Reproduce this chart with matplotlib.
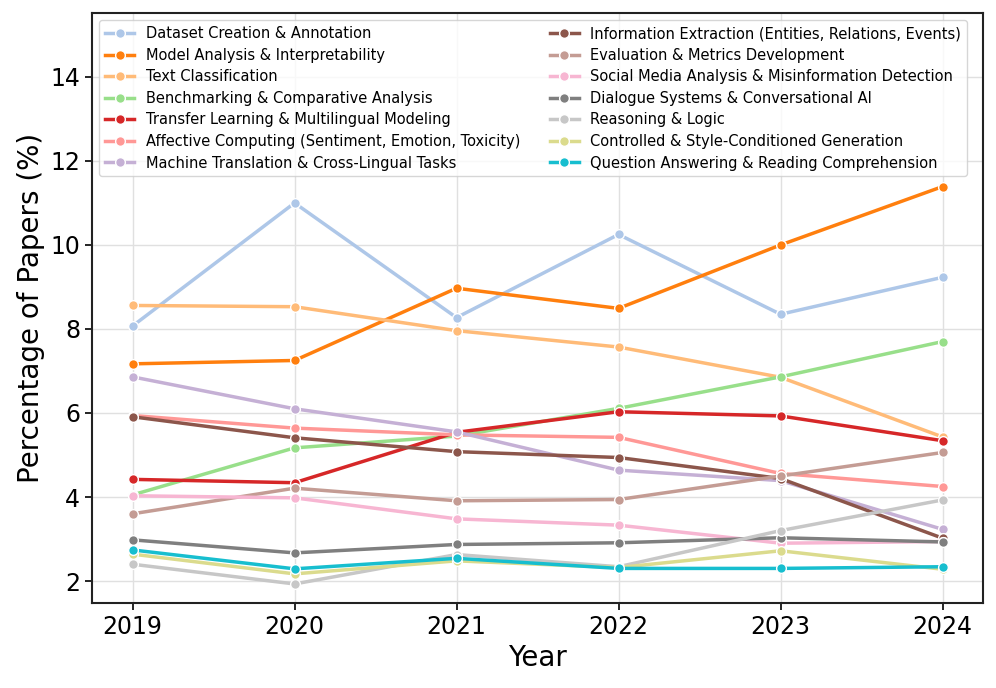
import matplotlib
matplotlib.use("Agg")
import matplotlib.pyplot as plt

years = [2019, 2020, 2021, 2022, 2023, 2024]

dataset_creation = [8.07, 11.00, 8.27, 10.25, 8.35, 9.23]
model_analysis = [7.17, 7.25, 8.97, 8.49, 10.00, 11.39]
text_classification = [8.56, 8.53, 7.96, 7.57, 6.85, 5.43]
benchmarking = [4.05, 5.17, 5.45, 6.11, 6.86, 7.70]
transfer_learning = [4.42, 4.34, 5.54, 6.03, 5.93, 5.34]
affective_computing = [5.94, 5.64, 5.48, 5.42, 4.56, 4.25]
machine_translation = [6.86, 6.10, 5.55, 4.64, 4.39, 3.23]
information_extraction = [5.91, 5.41, 5.08, 4.94, 4.44, 3.02]
evaluation_metrics = [3.60, 4.21, 3.91, 3.94, 4.50, 5.06]
social_media = [4.03, 3.98, 3.48, 3.33, 2.90, 2.94]
dialogue_systems = [2.98, 2.67, 2.87, 2.91, 3.03, 2.93]
reasoning = [2.40, 1.93, 2.63, 2.34, 3.20, 3.93]
controlled_generation = [2.64, 2.17, 2.48, 2.32, 2.72, 2.28]
question_answering = [2.74, 2.29, 2.54, 2.30, 2.30, 2.34]

series = [
    ("Dataset Creation & Annotation", dataset_creation, "#aec7e8"),
    ("Model Analysis & Interpretability", model_analysis, "#ff7f0e"),
    ("Text Classification", text_classification, "#ffbb78"),
    ("Benchmarking & Comparative Analysis", benchmarking, "#98df8a"),
    ("Transfer Learning & Multilingual Modeling", transfer_learning, "#d62728"),
    ("Affective Computing (Sentiment, Emotion, Toxicity)", affective_computing, "#ff9896"),
    ("Machine Translation & Cross-Lingual Tasks", machine_translation, "#c5b0d5"),
    ("Information Extraction (Entities, Relations, Events)", information_extraction, "#8c564b"),
    ("Evaluation & Metrics Development", evaluation_metrics, "#c49c94"),
    ("Social Media Analysis & Misinformation Detection", social_media, "#f7b6d2"),
    ("Dialogue Systems & Conversational AI", dialogue_systems, "#7f7f7f"),
    ("Reasoning & Logic", reasoning, "#c7c7c7"),
    ("Controlled & Style-Conditioned Generation", controlled_generation, "#dbdb8d"),
    ("Question Answering & Reading Comprehension", question_answering, "#17becf"),
]

fig = plt.figure(figsize=(9.96, 6.88), dpi=100)
ax = fig.add_axes([0.0924, 0.1235, 0.8946, 0.8575])

for name, vals, col in series:
    ax.plot(years, vals, marker="o", color=col, linewidth=2.5, markersize=7,
            markeredgecolor="white", markeredgewidth=1.0, label=name)

ax.set_xlim(2018.75, 2024.25)
ax.set_ylim(1.476, 15.52)
ax.set_xticks(years)
ax.set_yticks([2, 4, 6, 8, 10, 12, 14])
ax.tick_params(axis="both", labelsize=17, width=1.2, length=5)
ax.set_xlabel("Year", fontsize=20)
ax.set_ylabel("Percentage of Papers (%)", fontsize=20)
ax.grid(True, color="#e0e0e0", linewidth=1.0)
ax.set_axisbelow(True)
for s in ax.spines.values():
    s.set_linewidth(1.5)
    s.set_color("#222222")

ax.legend(loc="upper left", ncol=2, fontsize=10.5, frameon=True, framealpha=0.8,
          handlelength=2.0, labelspacing=0.45)

fig.savefig("out.png", dpi=100)
